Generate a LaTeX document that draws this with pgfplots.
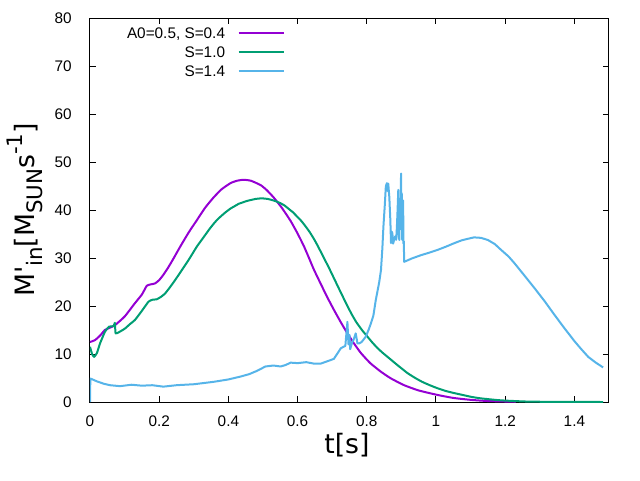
\documentclass[border=0pt]{standalone}
\usepackage{pgfplots}
\pgfplotsset{compat=1.18}
\usepackage{fontspec}
\setmainfont{Liberation Sans}
\newfontfamily\dejavu{DejaVu Sans}
\definecolor{gpviolet}{HTML}{9400D3}
\definecolor{gpgreen}{HTML}{009E73}
\definecolor{gpblue}{HTML}{56B4E9}
\begin{document}
\begin{tikzpicture}
\path[use as bounding box] (-67.5pt,-58.5pt) rectangle (412.5pt,301.5pt);
\begin{axis}[
  at={(0,0)}, anchor=south west,
  scale only axis, width=389.25pt, height=288pt,
  xmin=0, xmax=1.5, ymin=0, ymax=80,
  xtick={0,0.2,0.4,0.6,0.8,1,1.2,1.4},
  ytick={0,10,20,30,40,50,60,70,80},
  tick align=inside, major tick length=4.5pt,
  xtick pos=both, ytick pos=both,
  axis line style={line width=0.75pt},
  every tick/.style={black, line width=0.75pt},
  /pgf/number format/assume math mode=true,
  ticklabel style={font=\fontsize{11.5}{13}\selectfont},
  xticklabel style={inner sep=0pt, anchor=north, yshift=-10pt},
  yticklabel style={inner sep=0pt, anchor=east, xshift=-13.5pt},
  xlabel={t[s]},
  ylabel={M'\raisebox{-0.3em}{\fontsize{16}{16}\selectfont in}[M\raisebox{-0.3em}{\fontsize{16}{16}\selectfont SUN}s\raisebox{0.45em}{\fontsize{16}{16}\selectfont -1}]},
  xlabel style={font=\dejavu\fontsize{20}{24}\selectfont, at={(axis description cs:0.495,-0.112)}, anchor=center},
  ylabel style={font=\dejavu\fontsize{20}{24}\selectfont, at={(axis description cs:-0.126,0.5)}, anchor=center, rotate=0},
  legend plot pos=right,
  legend cell align=right,
  legend image code/.code={\draw[#1] (0pt,0pt) -- (33.75pt,0pt);},
  legend style={draw=none, fill=none, inner sep=0pt, anchor=north east,
    at={(axis description cs:0.3757,0.9792)},
    font=\fontsize{11.5}{13}\selectfont,
    row sep=4.4pt, column sep=9.5pt,
    nodes={inner sep=0pt, text height=9pt, text depth=1pt}},
  every axis plot/.append style={line width=1.5pt, line join=round},
]
\addplot[color=gpviolet, smooth, tension=0.3] coordinates {
(0,12.5) (0.0145,12.9) (0.03,13.9) (0.043,15.0) (0.058,15.5) (0.072,16.0) (0.10,17.8) (0.13,20.6) (0.150,22.4) (0.164,24.2)
(0.175,24.5) (0.188,24.7) (0.200,25.4) (0.212,26.5) (0.225,27.9) (0.239,29.6) (0.261,32.4) (0.285,35.3) (0.309,37.9) (0.333,40.5) (0.357,42.6)
(0.38,44.3) (0.406,45.6) (0.425,46.1) (0.444,46.3) (0.465,46.1) (0.493,45.2) (0.51,44.2) (0.531,42.6)
(0.555,40.4) (0.580,37.7) (0.60,35.1) (0.618,32.5) (0.633,30.0) (0.647,27.6) (0.667,24.6) (0.686,21.8) (0.705,19.2)
(0.725,16.6) (0.744,14.3) (0.763,12.2) (0.783,10.2) (0.81,8.1) (0.841,6.3) (0.87,4.9) (0.908,3.5)
(0.95,2.4) (1.005,1.46) (1.05,0.85) (1.10,0.45) (1.15,0.2) (1.23,0.05)
};
\addlegendentry{A0=0.5, S=0.4}
\addplot[color=gpgreen, smooth, tension=0.25] coordinates {
(0,11.5) (0.006,10.0) (0.012,9.4) (0.02,10.2) (0.029,12.2) (0.043,14.6) (0.055,15.7) (0.068,15.8)
(0.072,16.5) (0.074,14.3) (0.085,14.6) (0.101,15.3) (0.115,16.2) (0.130,17.1) (0.150,19.0) (0.169,20.9) (0.18,21.3) (0.193,21.4)
(0.205,21.9) (0.217,22.6) (0.231,23.9) (0.246,25.4) (0.261,27.0) (0.273,28.3) (0.285,29.6) (0.297,31.0) (0.309,32.4) (0.321,33.6) (0.333,34.8) (0.345,36.0) (0.357,37.1) (0.368,38.0) (0.38,38.8)
(0.393,39.6) (0.406,40.3) (0.418,40.8) (0.43,41.3) (0.442,41.6) (0.454,41.9) (0.466,42.1) (0.478,42.3) (0.490,42.4) (0.502,42.4) (0.514,42.3) (0.525,42.1) (0.538,41.8) (0.551,41.4) (0.563,40.9) (0.575,40.2)
(0.587,39.5) (0.599,38.6) (0.611,37.7) (0.623,36.6) (0.635,35.4) (0.647,34.0) (0.657,32.7) (0.667,31.3) (0.679,29.6) (0.691,27.9) (0.705,25.8) (0.725,22.8) (0.744,20.0)
(0.757,18.2) (0.77,16.6) (0.786,15.0) (0.802,13.6) (0.816,12.4) (0.83,11.3) (0.845,10.3) (0.86,9.4) (0.875,8.5) (0.89,7.6) (0.904,6.8) (0.918,6.0) (0.94,5.0) (0.96,4.2) (0.982,3.5) (1.005,2.85)
(1.028,2.3) (1.05,1.9) (1.075,1.5) (1.10,1.1) (1.125,0.8) (1.15,0.6) (1.175,0.42) (1.198,0.3) (1.26,0.1) (1.34,0.02) (1.483,0)
};
\addlegendentry{S=1.0}
\addplot[color=gpblue] coordinates {
(0,0) (0.001,4.9) (0.02,4.3) (0.04,3.8) (0.058,3.5) (0.087,3.3) (0.12,3.6) (0.15,3.4) (0.18,3.5)
(0.212,3.2) (0.25,3.5) (0.30,3.7) (0.357,4.2) (0.40,4.7) (0.435,5.3) (0.46,5.8) (0.483,6.5) (0.507,7.4)
(0.53,7.6) (0.551,7.4) (0.565,7.7) (0.58,8.2) (0.60,8.1) (0.625,8.3) (0.647,8.0) (0.667,8.0) (0.696,8.75)
(0.705,9.0) (0.715,10.1) (0.725,11.2) (0.738,11.7) (0.744,16.7) (0.747,12.0) (0.750,14.0) (0.752,11.0)
(0.758,12.5) (0.762,13.0) (0.768,14.3) (0.773,12.2) (0.778,12.2) (0.785,12.5) (0.797,13.6) (0.805,15.0)
(0.812,16.4) (0.819,18.0) (0.826,21.25) (0.832,23.5) (0.836,25.0) (0.841,27.5) (0.845,32.0) (0.848,36.5)
(0.852,41.0) (0.855,44.9) (0.858,45.6) (0.860,44.0) (0.862,45.5) (0.865,42.8) (0.868,38.0) (0.870,33.1)
(0.872,35.5) (0.874,35.1) (0.876,33.0) (0.879,33.75) (0.882,34.5) (0.885,33.8) (0.887,36.5) (0.889,40.0)
(0.891,44.2) (0.892,35.0) (0.894,33.75) (0.896,42.0) (0.897,36.0) (0.899,47.6) (0.900,38.0) (0.901,43.5)
(0.902,34.0) (0.903,33.75) (0.905,42.0) (0.906,33.0) (0.907,33.5) (0.908,29.2) (0.93,29.9) (0.957,30.6)
(0.98,31.1) (1.005,31.7) (1.03,32.4) (1.053,33.1) (1.075,33.7) (1.092,34.0) (1.11,34.3) (1.13,34.2)
(1.15,33.75) (1.17,32.9) (1.188,31.7) (1.21,30.3) (1.227,28.9) (1.255,26.4) (1.285,23.7) (1.315,20.9)
(1.343,18.1) (1.372,15.3) (1.401,12.6) (1.42,11.0) (1.44,9.4) (1.46,8.3) (1.483,7.2)
};
\addlegendentry{S=1.4}
\end{axis}
\end{tikzpicture}
\end{document}
